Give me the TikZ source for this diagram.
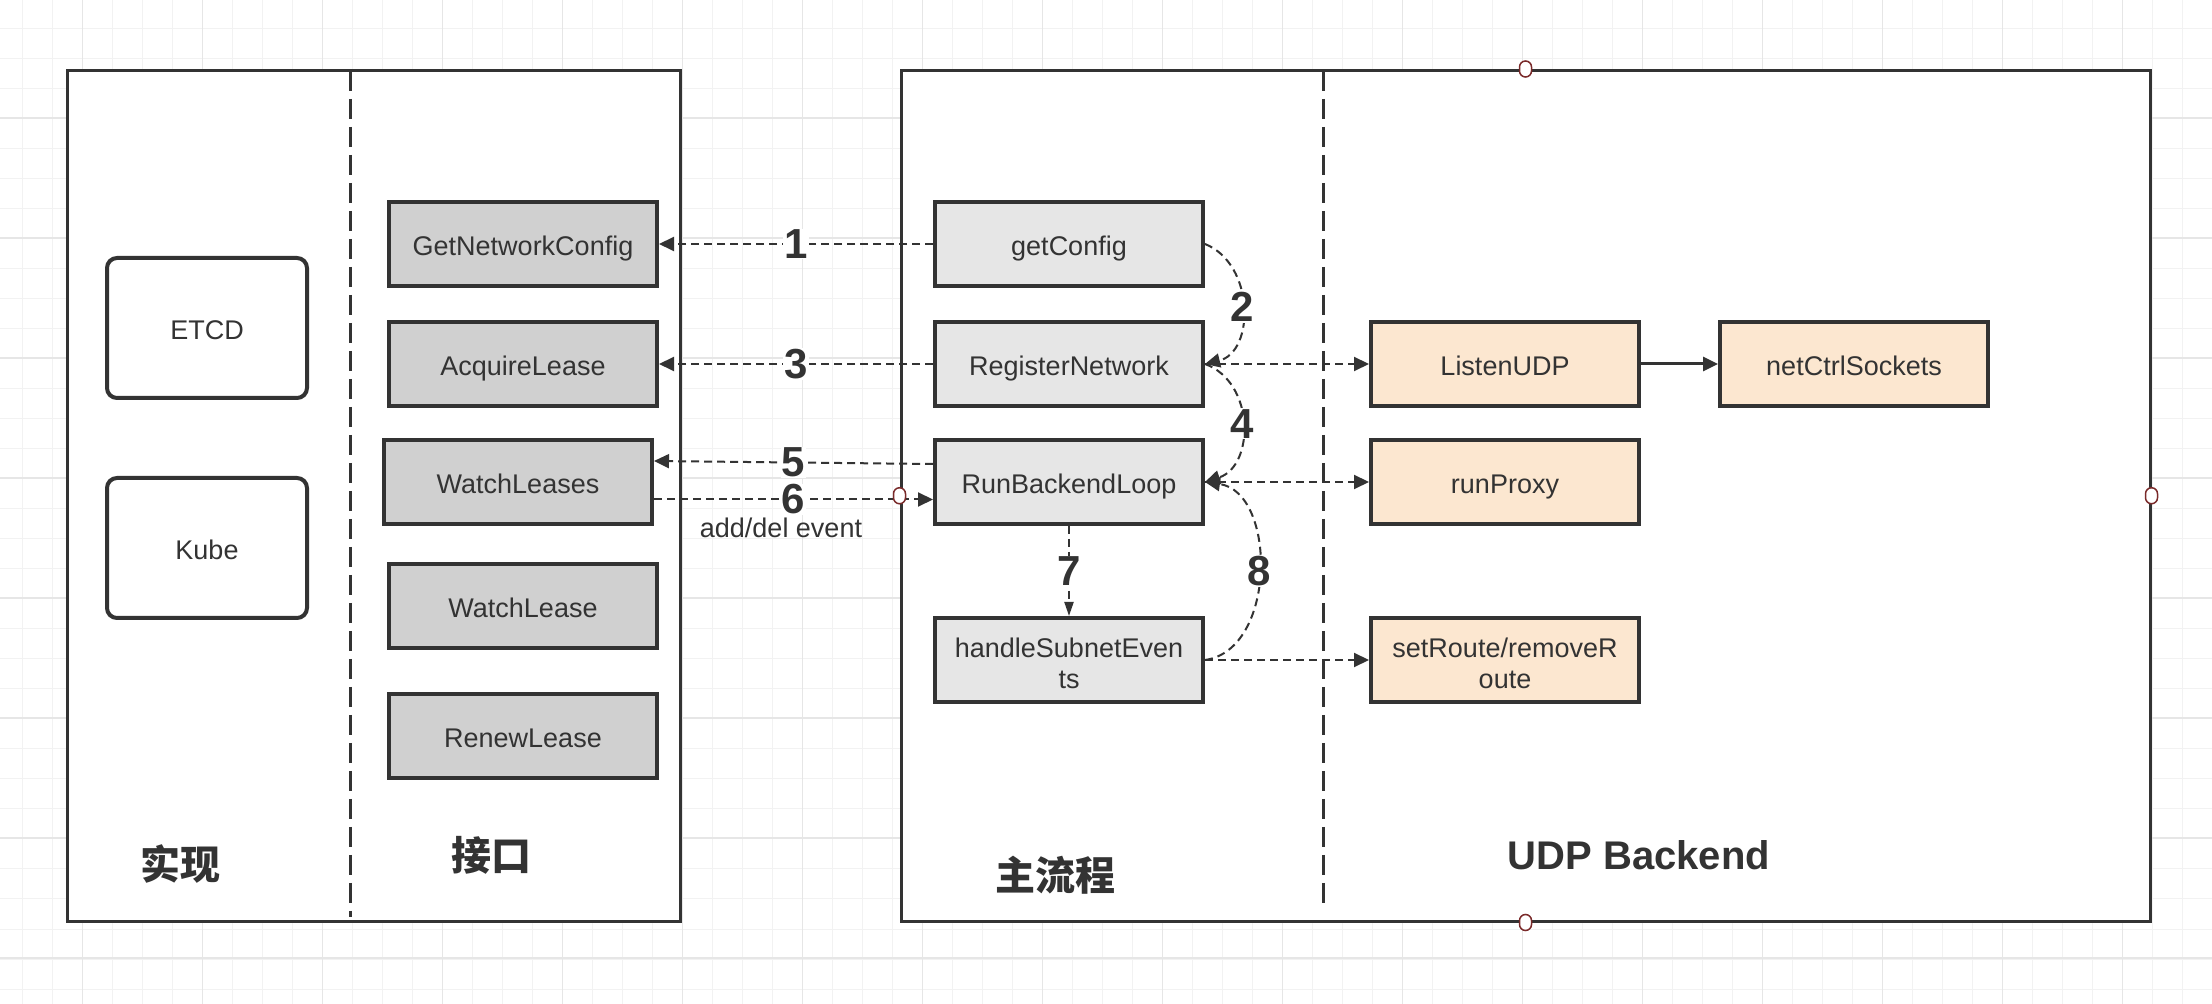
\documentclass[tikz,border=0pt]{standalone}
\usepackage{fontspec}
\setmainfont{Liberation Sans}
\newfontfamily\cjk{Noto Sans CJK SC}
\usetikzlibrary{arrows.meta,calc}
\definecolor{ink}{HTML}{333333}
\definecolor{ifill}{HTML}{D0D0D0}
\definecolor{mfill}{HTML}{E6E6E6}
\definecolor{bfill}{HTML}{FCE7D0}
\definecolor{gridminor}{HTML}{F2F2F2}
\definecolor{gridmajor}{HTML}{E6E6E6}
\definecolor{handlecol}{HTML}{7A2A2A}
\begin{document}
\begin{tikzpicture}[x=0.5pt,y=-0.5pt,
  txt/.style={font=\fontsize{13.5}{15.5}\selectfont, text=ink, align=center},
  oneline/.style={text height=14.72pt, text depth=3.38pt},
  twoline/.style={text height=28.1pt, text depth=0pt},
  fnbox/.style={txt, draw=ink, line width=2pt, minimum width=134pt, minimum height=42pt, inner sep=0pt},
  ibox/.style={fnbox, oneline, fill=ifill},
  mbox/.style={fnbox, oneline, fill=mfill},
  bbox/.style={fnbox, oneline, fill=bfill},
  mbox2/.style={fnbox, twoline, fill=mfill},
  bbox2/.style={fnbox, twoline, fill=bfill},
  rbox/.style={txt, oneline, draw=ink, line width=2pt, fill=white, rounded corners=5pt, minimum width=100pt, minimum height=70pt, inner sep=0pt},
  frame/.style={draw=ink, line width=1.5pt, fill=white, inner sep=0pt},
  sepline/.style={draw=ink, line width=1.5pt, dash pattern=on 10pt off 4pt},
  darr/.style={draw=ink, line width=1pt, dash pattern=on 4pt off 2.5pt, -{Triangle[length=7.5pt,width=7pt]}},
  darrs/.style={draw=ink, line width=1pt, dash pattern=on 4pt off 2.5pt, -{Triangle[length=7pt,width=4.5pt]}},
  sarr/.style={draw=ink, line width=1.5pt, -{Triangle[length=7.5pt,width=7pt]}},
  num/.style={fill=white, inner sep=0.5pt, text=ink, font=\bfseries\fontsize{21}{24}\selectfont},
  sec/.style={text=ink, font=\bfseries\fontsize{20}{24}\selectfont},
  handle/.style={draw=handlecol, line width=0.75pt, fill=white, minimum width=6pt, minimum height=8pt, inner sep=0pt, rounded corners=3pt}
]
\useasboundingbox (0,0) rectangle (2212,1004);
\fill[white] (0,0) rectangle (2212,1004);
% grid
\foreach \i in {0,...,73} \draw[gridminor, line width=0.5pt] ({22.7+30*\i},0) -- ({22.7+30*\i},1004);
\foreach \j in {0,...,32} \draw[gridminor, line width=0.5pt] (0,{29+30*\j}) -- (2212,{29+30*\j});
\foreach \i in {0,...,17} \draw[gridmajor, line width=0.75pt] ({82.7+120*\i},0) -- ({82.7+120*\i},1004);
\foreach \j in {0,...,7} \draw[gridmajor, line width=0.75pt] (0,{118+120*\j}) -- (2212,{118+120*\j});

% frames
\node[frame, minimum width=306.15pt, minimum height=425.25pt] (lframe) at (373.85,495.75) {};
\node[frame, minimum width=624.5pt, minimum height=425.25pt] (rframe) at (1525.5,495.75) {};
\draw[sepline] (350,71) -- (350,917);
\draw[sepline] (1323,71) -- (1323,903);

% implementations
\node[rbox] (etcd) at (207,328) {ETCD};
\node[rbox] (kube) at (207,548) {Kube};

% interface
\node[ibox] (gnc) at (523,244) {GetNetworkConfig};
\node[ibox] (al) at (523,364) {AcquireLease};
\node[ibox] (wls) at (518,482) {WatchLeases};
\node[ibox] (wl) at (523,606) {WatchLease};
\node[ibox] (rl) at (523,736) {RenewLease};

% main flow
\node[mbox] (gc) at (1069,244) {getConfig};
\node[mbox] (rn) at (1069,364) {RegisterNetwork};
\node[mbox] (rbl) at (1069,482) {RunBackendLoop};
\node[mbox2] (hse) at (1069,660) {handleSubnetEven\\ts};

% backend
\node[bbox] (lu) at (1505,364) {ListenUDP};
\node[bbox] (ncs) at (1854,364) {netCtrlSockets};
\node[bbox] (rp) at (1505,482) {runProxy};
\node[bbox2] (sr) at (1505,660) {setRoute/removeR\\oute};

% section titles
\node[sec] (t1) at (180,864) {\cjk 实现};
\node[sec] (t2) at (491,855) {\cjk 接口};
\node[sec] (t3) at (1055,875) {\cjk 主流程};
\node[sec] (t4) at (1639,855) {UDP Backend};

% edges
\draw[darr] (gc.west) -- node[num]{1} (gnc.east);
\draw[darr] (rn.west) -- node[num]{3} (al.east);
\draw[darr] ($(rbl.west)+(0,-18)$) -- node[num]{5} ($(wls.east)+(0,-21)$);
\draw[darr] ($(wls.east)+(0,17.5)$) -- node[num]{6} ($(rbl.west)+(0,17.5)$);
\node[txt, inner sep=0pt] (evt) at (781,528) {add/del event};

\draw[darr] (gc.east) .. controls ($(gc.east)+(50,20)$) and ($(rn.east)+(50,-12)$) .. node[num]{2} (rn.east);
\draw[darr] (rn.east) .. controls ($(rn.east)+(50,18)$) and ($(rbl.east)+(50,-16)$) .. node[num]{4} (rbl.east);
\draw[darr] (hse.east) .. controls ($(hse.east)+(72,-10)$) and ($(rbl.east)+(72,10)$) .. node[num]{8} (rbl.east);
\draw[darrs] (rbl.south) -- node[num]{7} (hse.north);

\draw[darr] (rn.east) -- (lu.west);
\draw[darr] (rbl.east) -- (rp.west);
\draw[darr] (hse.east) -- (sr.west);
\draw[sarr] (lu.east) -- (ncs.west);

% connection handles of the right frame
\node[handle] (h1) at (rframe.north) {};
\node[handle] (h2) at (rframe.south) {};
\node[handle] (h3) at (rframe.east) {};
\node[handle] (h4) at (rframe.west) {};
\end{tikzpicture}
\end{document}
